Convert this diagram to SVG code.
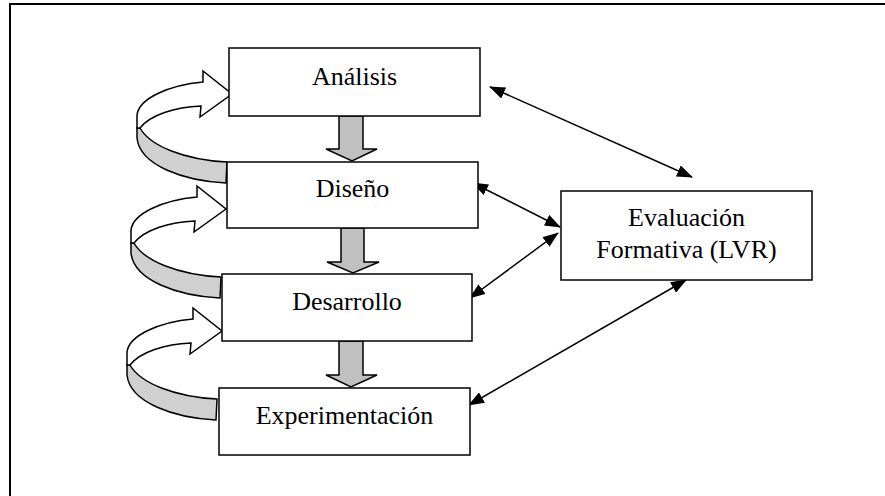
<svg xmlns="http://www.w3.org/2000/svg" width="885" height="496" viewBox="0 0 885 496">
<style>
.frame{fill:none;stroke:#000;stroke-width:2}
.box{fill:#fff;stroke:#000;stroke-width:1.5}
.down{fill:#c0c0c0;stroke:#000;stroke-width:1.5;stroke-linejoin:miter}
.loopw{fill:#fff;stroke:#000;stroke-width:1.5;stroke-linejoin:miter}
.loopg{fill:#d0d0d0;stroke:#000;stroke-width:1.5;stroke-linejoin:miter}
.link{fill:none;stroke:#000;stroke-width:1.5}
</style>
<defs>
<marker id="ah" viewBox="0 0 16 12" refX="15" refY="6" markerWidth="16" markerHeight="12" markerUnits="userSpaceOnUse" orient="auto-start-reverse">
<path d="M0,0 L16,6 L0,12 Z" fill="#000"/>
</marker>
<g id="loop">
<path class="loopg" d="M140,128 C150,146 185,160 227,162 L226,183 C185,181 140,166 137,138 L137,128 Z"/>
<path class="loopw" d="M137,128 L137,115 C139,98 170,85 203,82 L203,71 L232,94 L200,117 L201,106 C175,107 150,115 140,128 Z"/>
</g>
</defs>
<path class="frame" d="M10,497 L10,4 L886,4"/>
<g id="connectors">
<use href="#loop"/>
<use href="#loop" transform="translate(-6,115)"/>
<use href="#loop" transform="translate(-10,237)"/>
<path class="down" d="M339,116 L363,116 L363,149 L377,149 L352,161 L326,149 L339,149 Z"/>
<path class="down" d="M341,228 L364,228 L364,262 L379,262 L353,273 L327,262 L341,262 Z"/>
<path class="down" d="M339,341 L363,341 L363,375 L377,375 L351,387 L326,375 L339,375 Z"/>
<line class="link" x1="490" y1="87" x2="692" y2="177" marker-start="url(#ah)" marker-end="url(#ah)"/>
<line class="link" x1="473" y1="183" x2="560" y2="227" marker-start="url(#ah)" marker-end="url(#ah)"/>
<line class="link" x1="470" y1="298" x2="558" y2="233" marker-start="url(#ah)" marker-end="url(#ah)"/>
<line class="link" x1="469" y1="405" x2="686" y2="280" marker-start="url(#ah)" marker-end="url(#ah)"/>
</g>
<g font-family="Liberation Serif, Times New Roman, DejaVu Serif, serif" font-size="26" text-anchor="middle" fill="#000">
<g id="analisis"><rect class="box" x="229" y="48" width="251" height="68"/><text x="354.5" y="85">Análisis</text></g>
<g id="diseno"><rect class="box" x="227" y="162" width="251" height="66"/><text x="352.5" y="197">Diseño</text></g>
<g id="desarrollo"><rect class="box" x="222" y="274" width="250" height="67"/><text x="347" y="310">Desarrollo</text></g>
<g id="experimentacion"><rect class="box" x="219" y="388" width="251" height="67"/><text x="344.5" y="424">Experimentación</text></g>
<g id="evaluacion"><rect class="box" x="561" y="191" width="251" height="89"/><text x="686.5" y="226">Evaluación</text><text x="686.5" y="258">Formativa (LVR)</text></g>
</g>
</svg>
